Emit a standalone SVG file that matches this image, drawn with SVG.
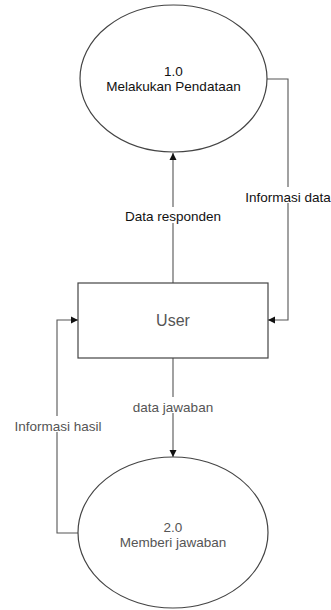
<svg xmlns="http://www.w3.org/2000/svg" width="331" height="610" viewBox="0 0 331 610">
<style>
.shape{fill:#fff;stroke:#444;stroke-width:1.2}
.line{fill:none;stroke:#555;stroke-width:1.1}
.t{font-family:"Liberation Sans",Arial,sans-serif;font-size:13.5px;fill:#111;text-anchor:middle}
.g{fill:#555}
.lbl{fill:#fff}
</style>
<defs>
<marker id="ah" markerWidth="8" markerHeight="8" refX="7" refY="4" orient="auto" markerUnits="userSpaceOnUse">
<path d="M0,0.5 L7,4 L0,7.5 Z" fill="#111"/>
</marker>
</defs>
<rect width="331" height="610" fill="#fff"/>
<g id="connectors">
<path class="line" d="M173,283 V153" marker-end="url(#ah)"/>
<path class="line" d="M267,79 H288 V320 H268" marker-end="url(#ah)"/>
<path class="line" d="M173,358 V457" marker-end="url(#ah)"/>
<path class="line" d="M79,533 H57 V320 H78" marker-end="url(#ah)"/>
<rect class="lbl" x="123" y="207" width="100" height="16"/>
<text class="t" x="173" y="221">Data responden</text>
<rect class="lbl" x="245" y="187" width="86" height="16"/>
<text class="t" x="288" y="202">Informasi data</text>
<rect class="lbl" x="129" y="397" width="88" height="16"/>
<text class="t g" x="173" y="412">data jawaban</text>
<rect class="lbl" x="13" y="416" width="92" height="16"/>
<text class="t g" x="58" y="431">Informasi hasil</text>
</g>
<g id="node-1">
<ellipse class="shape" cx="173.5" cy="78.5" rx="93.5" ry="73.5"/>
<text class="t" x="173.5" y="76">1.0</text>
<text class="t" x="173.5" y="91">Melakukan Pendataan</text>
</g>
<g id="node-user">
<rect class="shape" x="78" y="283" width="190" height="75"/>
<text class="t g" x="173" y="326" style="font-size:16px">User</text>
</g>
<g id="node-2">
<ellipse class="shape" cx="173" cy="532.5" rx="95" ry="75.5"/>
<text class="t g" x="173" y="532">2.0</text>
<text class="t g" x="173" y="547">Memberi jawaban</text>
</g>
</svg>
